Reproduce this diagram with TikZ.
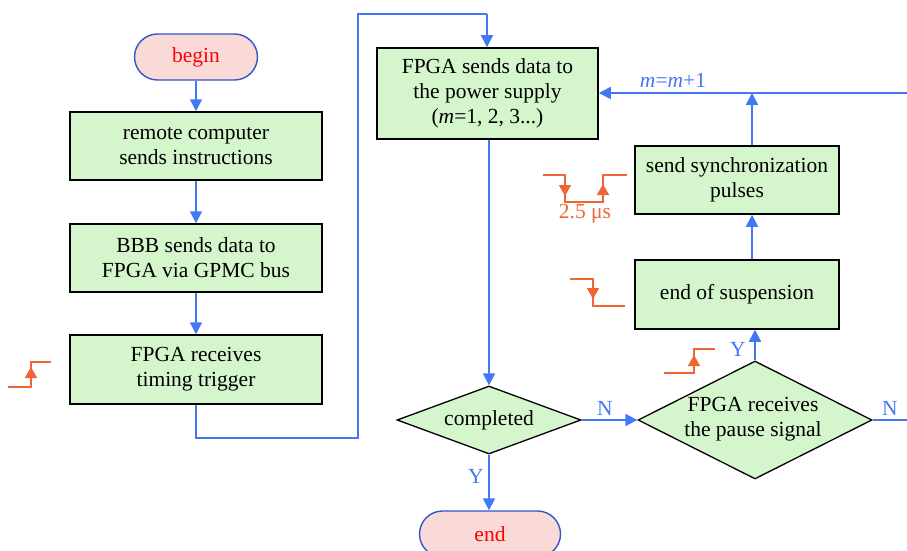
\documentclass[tikz,border=0pt]{standalone}
\usepackage{fontspec}
\setmainfont{Liberation Serif}
\usetikzlibrary{arrows.meta,shapes.geometric}
\definecolor{boxgreen}{HTML}{D5F6CC}
\definecolor{pinkfill}{HTML}{F9DAD6}
\definecolor{conblue}{HTML}{4477F5}
\definecolor{termblue}{HTML}{3355CC}
\definecolor{sigorange}{HTML}{EE6633}
\begin{document}
\begin{tikzpicture}[x=1pt,y=-1pt,
  every node/.style={font=\fontsize{21.5}{25}\selectfont},
  procbox/.style={draw=black,line width=1.5pt,fill=boxgreen,align=center,inner sep=0pt},
  termbox/.style={draw=termblue,line width=1.4pt,fill=pinkfill,text=red,rounded corners=23pt,minimum height=46pt,inner sep=0pt},
  dia/.style={diamond,draw=black,line width=1.3pt,fill=boxgreen,inner sep=0pt},
  conn/.style={draw=conblue,line width=1.7pt},
  arr/.style={conn,-{Triangle[length=12pt,width=12pt]}},
  sig/.style={draw=sigorange,line width=1.6pt},
  sigarr/.style={sig,-{Triangle[length=11pt,width=12pt]}},
  blab/.style={text=conblue,inner sep=0pt},
  olab/.style={text=sigorange,inner sep=0pt}]
\useasboundingbox (0,0) rectangle (907,551);

% left column
\node[termbox,minimum width=123pt] (begin) at (196,57) {begin};
\node[procbox,minimum width=252pt,minimum height=68pt] (b1) at (196,146) {remote computer\\sends instructions};
\node[procbox,minimum width=252pt,minimum height=68pt] (b2) at (196,258) {BBB sends data to\\FPGA via GPMC bus};
\node[procbox,minimum width=252pt,minimum height=69pt] (b3) at (196,369.5) {FPGA receives\\timing trigger};

% middle
\node[procbox,minimum width=221pt,minimum height=91pt] (b4) at (487.5,93.5) {FPGA sends data to\\the power supply\\(\textit{m}=1, 2, 3...)};
\node[dia,minimum width=184pt,minimum height=68pt] (d1) at (489,420) {};
\node (d1t) at (d1) {completed};
\node[termbox,minimum width=141pt] (end) at (490,534) {end};

% right
\node[procbox,minimum width=204pt,minimum height=68pt] (b5) at (737,180) {send synchronization\\pulses};
\node[procbox,minimum width=204pt,minimum height=69pt] (b6) at (737,294.5) {end of suspension};
\node[dia,minimum width=234pt,minimum height=118pt] (d2) at (755,420) {};
\node[align=center] (d2t) at (753,419) {FPGA receives\\the pause signal};

% coordinates
\coordinate (c1) at (196,438);
\coordinate (c2) at (358,438);
\coordinate (c3) at (358,14);
\coordinate (c4) at (487,14);
\coordinate (mline) at (752,93);
\coordinate (rin) at (907,93);
\coordinate (rout) at (907,420);

% connectors
\draw[arr] (begin) -- (b1);
\draw[arr] (b1) -- (b2);
\draw[arr] (b2) -- (b3);
\draw[conn] (b3.south) -- (c1) -- (c2) -- (c3) -- (c4);
\draw[arr] (c4) -- (b4.north -| c4);
\draw[arr] (b4.south -| d1) -- (d1.north);
\draw[arr] (d1.south) -- (end.north -| d1);
\draw[arr] (d1.east) -- (d2.west);
\draw[conn] (d2.east) -- (rout);
\draw[arr] (d2.north) -- (d2.north |- b6.south);
\draw[arr] (b6.north -| mline) -- (b5.south -| mline);
\draw[arr] (b5.north -| mline) -- (mline);
\draw[arr] (rin) -- (b4.east |- rin);

% connector labels
\node[blab] (lm) at (673,80) {\textit{m}=\textit{m}+1};
\node[blab] (ly1) at (476,476) {Y};
\node[blab] (ln1) at (605,408) {N};
\node[blab] (ln2) at (890,408) {N};
\node[blab] (ly2) at (738,349) {Y};

% signal symbols
\draw[sig] (543,175) -- (565,175) -- (565,202) -- (603,202) -- (603,175) -- (627,175);
\draw[sigarr] (565,183) -- (565,196);
\draw[sigarr] (603,197) -- (603,184);
\node[olab] (lus) at (585,214) {2.5 μs};

\draw[sig] (570,279) -- (593,279) -- (593,306) -- (625,306);
\draw[sigarr] (593,286) -- (593,299);

\draw[sig] (664,373) -- (694,373) -- (694,349) -- (715,349);
\draw[sigarr] (694,368) -- (694,355);

\draw[sig] (8,387) -- (31,387) -- (31,362) -- (51,362);
\draw[sigarr] (31,380) -- (31,367);
\end{tikzpicture}
\end{document}
